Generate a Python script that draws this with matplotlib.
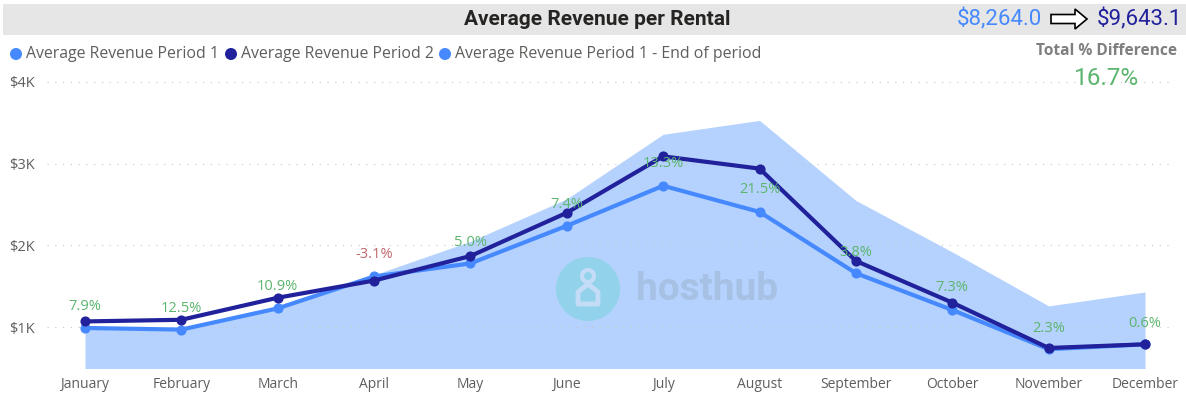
import matplotlib
matplotlib.use("Agg")
import matplotlib.pyplot as plt
from matplotlib.patches import Circle, FancyArrow, Polygon, Rectangle

W, H = 1186, 394

months = ["January", "February", "March", "April", "May", "June", "July",
          "August", "September", "October", "November", "December"]
period1 = [990, 970, 1230, 1620, 1780, 2240, 2730, 2410, 1660, 1210, 730, 790]
period2 = [1070, 1090, 1360, 1570, 1870, 2400, 3090, 2940, 1810, 1300, 745, 790]
end_of_period = [990, 970, 1230, 1640, 2050, 2570, 3360, 3530, 2550, 1920, 1260, 1430]
pct_labels = ["7.9%", "12.5%", "10.9%", "-3.1%", "5.0%", "7.4%", "13.3%",
              "21.5%", "3.8%", "7.3%", "2.3%", "0.6%"]
# label offset from the period 2 point, in points
label_offsets = [11, 8, 8, 19, 10, 6, -5, -15, 6, 11, 14, 15]
y_ticks = [1000, 2000, 3000, 4000]
y_tick_labels = ["$1K", "$2K", "$3K", "$4K"]

BLUE = "#4689ff"
NAVY = "#20219b"
AREA = "#b4d2fd"
GREEN = "#5cb56e"
RED = "#c0666e"
GREY = "#605e5c"

plt.rcParams["font.family"] = ["Open Sans", "DejaVu Sans"]

fig = plt.figure(figsize=(W / 100, H / 100), dpi=100)

# overlay in pixel coordinates for banner, legend and logo
bg = fig.add_axes([0, 0, 1, 1], zorder=0)
bg.set_xlim(0, W)
bg.set_ylim(H, 0)
bg.axis("off")
bg.add_patch(Rectangle((3, 4), 1183, 31, color="#e6e6e6", lw=0))

ax = fig.add_axes([85 / W, (H - 368) / H, (1145 - 85) / W, (368 - 82) / H], zorder=1)
ax.patch.set_alpha(0)
x = list(range(len(months)))
ax.set_xlim(0, 11)
ax.set_ylim(500, 4000)

ax.fill_between(x, end_of_period, 0, color=AREA, lw=0, zorder=1)
for tick in y_ticks:
    ax.plot([-0.395, 11.3], [tick, tick], color="#c8c8c8", lw=0.8, ls=(0, (1, 6)),
            zorder=2, clip_on=False)
ax.plot(x, period1, color=BLUE, lw=3, marker="o", ms=6.3, zorder=4, clip_on=False)
ax.plot(x, period2, color=NAVY, lw=3, marker="o", ms=6.3, zorder=5, clip_on=False)

for i, lab in enumerate(pct_labels):
    color = RED if lab.startswith("-") else GREEN
    ax.annotate(lab, (x[i], period2[i]), xytext=(0, label_offsets[i]),
                textcoords="offset points", ha="center", va="center",
                color=color, fontsize=10.5, zorder=6)

ax.set_xticks(x)
ax.set_xticklabels(months, fontsize=10, color=GREY)
ax.set_yticks(y_ticks)
ax.set_yticklabels(y_tick_labels, fontsize=10.5, color=GREY)
ax.tick_params(length=0, pad=0)
ax.tick_params(axis="x", pad=6.5)
ax.tick_params(axis="y", pad=36)
for spine in ax.spines.values():
    spine.set_visible(False)

# front layer, also pixel coordinates
top = fig.add_axes([0, 0, 1, 1], zorder=2)
top.set_xlim(0, W)
top.set_ylim(H, 0)
top.axis("off")
top.patch.set_alpha(0)

top.text(597, 19, "Average Revenue per Rental", ha="center", va="center",
         fontsize=15, fontweight="bold", color="#252423", family="Roboto")
top.text(999, 19, "$8,264.0", ha="center", va="center", fontsize=16,
         color=BLUE, family="Roboto")
top.text(1139, 19, "$9,643.1", ha="center", va="center", fontsize=16,
         color=NAVY, family="Roboto")
top.add_patch(FancyArrow(1051, 19, 36, 0, width=9, head_width=20, head_length=12,
                         length_includes_head=True, fc="white", ec="black", lw=1.2))
top.text(1107, 51, "Total % Difference", ha="center", va="center", fontsize=11.2,
         fontweight="bold", color="#7f7f7f")
top.text(1107, 78, "16.7%", ha="center", va="center", fontsize=17.5,
         color=GREEN, family="Roboto")

legend = [("Average Revenue Period 1", BLUE, 16),
          ("Average Revenue Period 2", NAVY, 231),
          ("Average Revenue Period 1 - End of period", BLUE, 445)]
for lab, col, px in legend:
    top.add_patch(Circle((px, 54), 6, color=col, lw=0))
    top.text(px + 10, 54, lab, ha="left", va="center", fontsize=11.4, color=GREY)

# logo
top.add_patch(Circle((588, 289), 32, color="#92d2ea", lw=0))
top.add_patch(Circle((588, 276), 6, fc="none", ec="#c4dcf8", lw=3))
top.add_patch(Polygon([[578, 304], [598, 304], [598, 292], [588, 284], [578, 292]],
                      closed=True, fc="none", ec="#c4dcf8", lw=3.5, joinstyle="round"))
top.text(636, 289, "hosthub", ha="left", va="center", fontsize=28,
         fontweight="bold", color="#a6c1e4", family="Roboto")

fig.savefig("out.png", dpi=100)
